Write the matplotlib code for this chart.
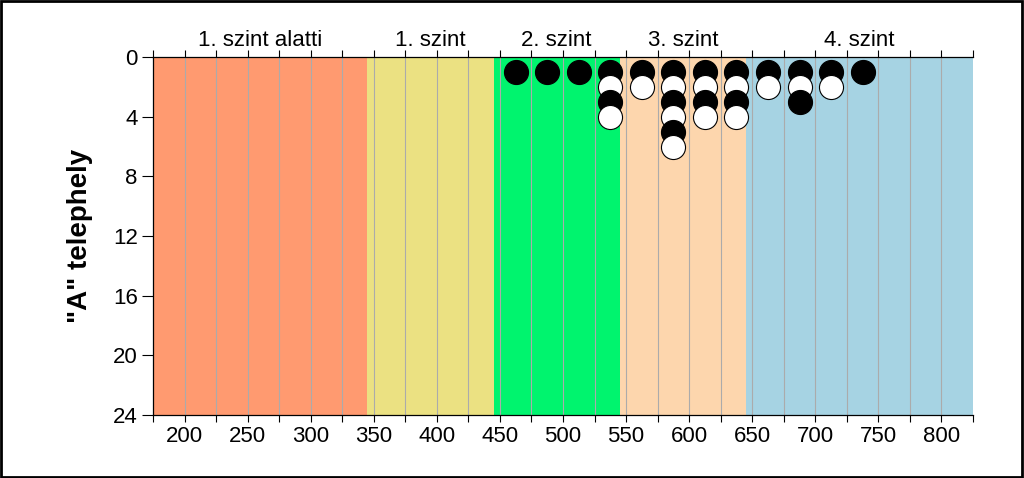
import matplotlib
matplotlib.use("Agg")
import matplotlib.pyplot as plt
from matplotlib.patches import Rectangle
from matplotlib.ticker import MultipleLocator

plt.rcParams['font.family'] = ['Liberation Sans', 'DejaVu Sans']

# Data
band_edges = [175, 345, 445, 545, 645, 825]
band_labels = ["1. szint alatti", "1. szint", "2. szint", "3. szint", "4. szint"]
band_colors = ["#FF9A70", "#EBE182", "#00F46E", "#FDD6AD", "#A6D3E3"]
bin_centers = [462.5, 487.5, 512.5, 537.5, 562.5, 587.5, 612.5, 637.5, 662.5, 687.5, 712.5, 737.5]
counts = [1, 1, 1, 4, 2, 6, 4, 4, 2, 3, 2, 1]
x_ticks = [200, 250, 300, 350, 400, 450, 500, 550, 600, 650, 700, 750, 800]
y_ticks = [0, 4, 8, 12, 16, 20, 24]
ylabel = '"A" telephely'

fig = plt.figure(figsize=(10.24, 4.78), dpi=100)
ax = fig.add_axes([153/1024, 1-415/478, (973-153)/1024, (415-57)/478])

for i in range(len(band_labels)):
    ax.axvspan(band_edges[i], band_edges[i+1], color=band_colors[i], zorder=0, lw=0)
    ax.annotate(band_labels[i], ((band_edges[i] + band_edges[i+1]) / 2, 1.0),
                xycoords=ax.get_xaxis_transform(), xytext=(0, 8),
                textcoords='offset points', ha='center', va='baseline', fontsize=16)

for gx in range(200, 825, 25):
    ax.axvline(gx, color='#ABABAB', lw=0.8, zorder=1)

z = 3
for xc, n in zip(bin_centers, counts):
    for k in range(1, n + 1):
        ax.scatter([xc], [k], s=300, c='black' if k % 2 == 1 else 'white',
                   edgecolors='black', linewidths=0.8, zorder=z + k)

ax.set_xlim(band_edges[0], band_edges[-1])
ax.set_ylim(24, 0)
ax.set_xticks(x_ticks)
ax.xaxis.set_minor_locator(MultipleLocator(25))
ax.set_yticks(y_ticks)
ax.tick_params(axis='x', which='both', top=True, bottom=True, labeltop=False,
               direction='out', length=5, width=0.8, labelsize=16, pad=3)
ax.tick_params(axis='y', direction='out', length=8, width=0.8, labelsize=16, pad=3)
ax.spines['right'].set_visible(False)
for s in ['top', 'bottom', 'left']:
    ax.spines[s].set_linewidth(0.9)
ax.set_ylabel(ylabel, fontsize=20, fontweight='bold', labelpad=14)

fig.patches.append(Rectangle((0.001, 0.002), 0.997, 0.995, transform=fig.transFigure,
                             fill=False, edgecolor='black', lw=2))

fig.savefig("out.png", dpi=100)
